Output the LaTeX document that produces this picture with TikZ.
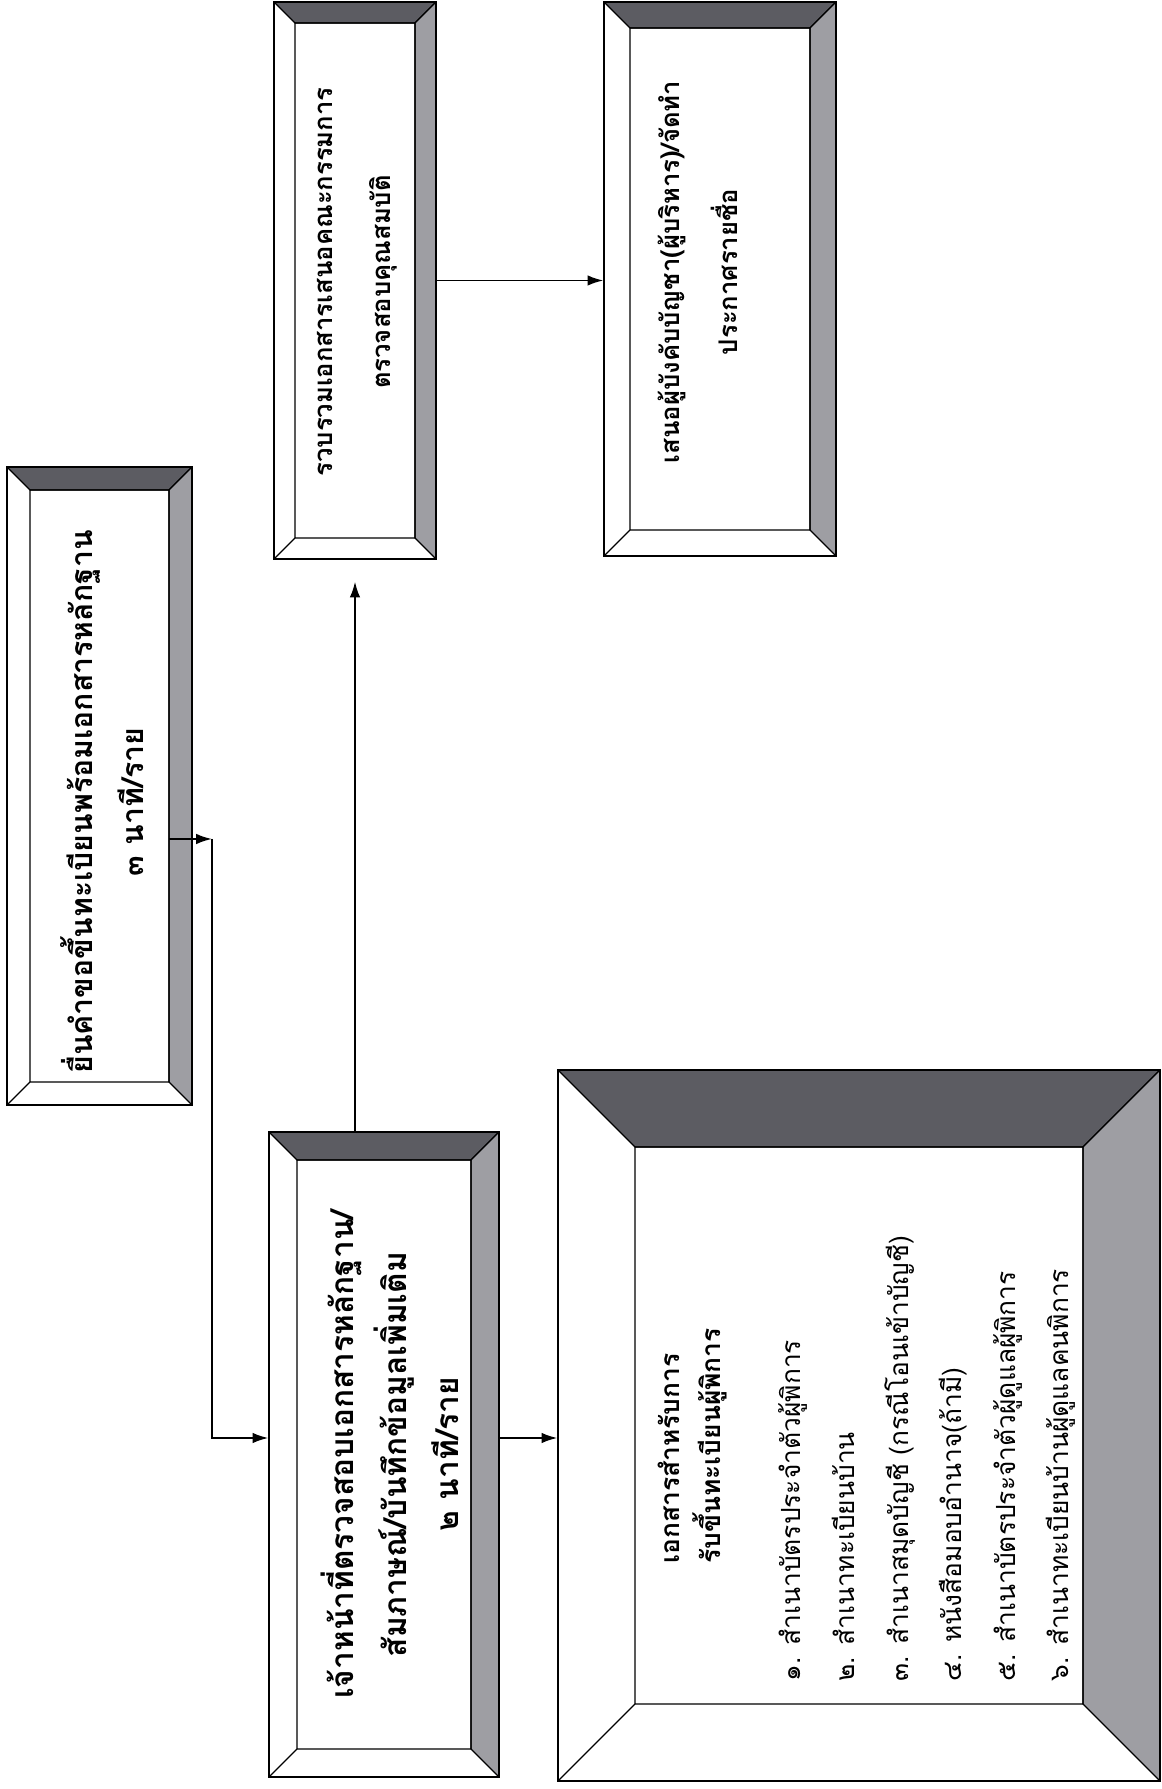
\documentclass[tikz,border=0pt]{standalone}
\usepackage{fontspec}
\newfontfamily\thaifont[Script=Thai]{Loma}
\usetikzlibrary{calc,arrows.meta}
\definecolor{bevelTop}{RGB}{92,92,98}
\definecolor{bevelSide}{RGB}{158,158,163}
\tikzset{
        bevel size/.store in=\bevelsize, bevel size=0.5cm,
        bevelbox/.style={draw, line width=0.7pt, fill=white, inner sep=0pt,
                path picture={
                        \coordinate (bsw) at (path picture bounding box.south west);
                        \coordinate (bne) at (path picture bounding box.north east);
                        \coordinate (bnw) at (bsw |- bne);
                        \coordinate (bse) at (bne |- bsw);
                        \filldraw[fill=bevelTop, line width=0.7pt] (bnw) -- (bne) -- ($(bne)+(-\bevelsize,-\bevelsize)$) -- ($(bnw)+(\bevelsize,-\bevelsize)$) -- cycle;
                        \filldraw[fill=bevelSide, line width=0.7pt] (bne) -- (bse) -- ($(bse)+(-\bevelsize,\bevelsize)$) -- ($(bne)+(-\bevelsize,-\bevelsize)$) -- cycle;
                        \draw[line width=0.7pt] (bsw) -- ($(bsw)+(\bevelsize,\bevelsize)$) rectangle ($(bne)+(-\bevelsize,-\bevelsize)$);
                }},
        boxtext/.style={rotate=90, align=center, inner sep=0pt, font=\thaifont\bfseries\fontsize{18}{30}\selectfont},
        smalltext/.style={boxtext, font=\thaifont\bfseries\fontsize{14.6}{33}\selectfont},
        headtext/.style={rotate=90, align=left, anchor=north west, inner sep=0pt, font=\thaifont\bfseries\fontsize{15}{23}\selectfont},
        listtext/.style={rotate=90, align=left, anchor=north west, inner sep=0pt, font=\thaifont\fontsize{15}{30.5}\selectfont},
        link/.style={line width=1.1pt, -{Latex[length=9pt,width=6pt]}}
}
\begin{document}
\begin{tikzpicture}
        \useasboundingbox (0cm, 0cm) rectangle (23.24cm, 35.78cm);
        % frames
        \node (b1) [bevelbox, bevel size=0.46cm, minimum width=3.70cm, minimum height=12.76cm] at (1.99cm, 20.06cm) {};
        \node (b3) [bevelbox, bevel size=0.42cm, minimum width=3.24cm, minimum height=11.14cm] at (7.10cm, 30.17cm) {};
        \node (b4) [bevelbox, bevel size=0.52cm, minimum width=4.64cm, minimum height=11.08cm] at (14.40cm, 30.20cm) {};
        \node (b2) [bevelbox, bevel size=0.56cm, minimum width=4.60cm, minimum height=12.90cm] at (7.68cm, 6.69cm) {};
        \node (b5) [bevelbox, bevel size=1.54cm, minimum width=12.04cm, minimum height=14.22cm] at (17.18cm, 7.27cm) {};
        % texts
        \node (t1) [boxtext, font=\thaifont\bfseries\fontsize{17.2}{29}\selectfont] at (2.05cm, 19.74cm) {ยื่นคำขอขึ้นทะเบียนพร้อมเอกสารหลักฐาน\\๓ นาที/ราย};
        \node (t2) [boxtext] at (7.80cm, 6.69cm) {เจ้าหน้าที่ตรวจสอบเอกสารหลักฐาน/\\สัมภาษณ์/บันทึกข้อมูลเพิ่มเติม\\๒ นาที/ราย};
        \node (t3) [smalltext] at (7.14cm, 30.14cm) {รวบรวมเอกสารเสนอคณะกรรมการ\\ตรวจสอบคุณสมบัติ};
        \node (t4) [smalltext] at (13.96cm, 30.34cm) {เสนอผู้บังคับบัญชา(ผู้บริหาร)/จัดทำ\\ประกาศรายชื่อ};
        \node (t5) [headtext] at (13.16cm, 4.50cm) {เอกสารสำหรับการ\\รับขึ้นทะเบียนผู้พิการ};
        \node (t6) [listtext] at (15.57cm, 2.14cm) {๑. สำเนาบัตรประจำตัวผู้พิการ\\๒. สำเนาทะเบียนบ้าน\\๓. สำเนาสมุดบัญชี (กรณีโอนเข้าบัญชี)\\๔. หนังสือมอบอำนาจ(ถ้ามี)\\๕. สำเนาบัตรประจำตัวผู้ดูแลผู้พิการ\\๖. สำเนาทะเบียนบ้านผู้ดูแลคนพิการ};
        % connectors
        \coordinate (a0) at (3.38cm, 19.00cm);
        \coordinate (a1) at (4.24cm, 19.00cm);
        \coordinate (row) at (0cm, 7.02cm);
        \draw[link] (a0) -- (a1);
        \draw[link] (a1) |- (b2.west |- row);
        \draw[link] (b2.east |- row) -- (b5.west |- row);
        \draw[link, shorten >=0.44cm] (b3.south |- b2.north) -- (b3.south);
        \draw[link] (b3.east) -- (b3.east -| b4.west);
\end{tikzpicture}
\end{document}
